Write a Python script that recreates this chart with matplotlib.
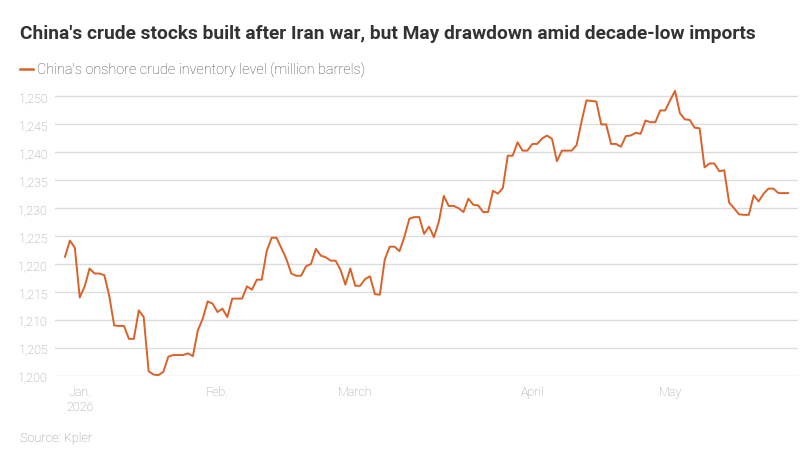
"""
China onshore crude inventory chart (Reuters style), rebuilt with matplotlib.
Saves out.png at 800x452.
"""

import numpy as np
import matplotlib
matplotlib.use("Agg")
import matplotlib.pyplot as plt
from matplotlib.lines import Line2D
from matplotlib.ticker import FuncFormatter

plt.rcParams['font.family'] = ['Roboto', 'DejaVu Sans']

# Inventory level, million barrels (one reading per observation)
inventory = [
    1221.3, 1224.2, 1222.9, 1214.0, 1216.0, 1219.2, 1218.3, 1218.3, 1218.0, 1214.3,
    1209.0, 1208.9, 1208.9, 1206.6, 1206.6, 1211.7, 1210.5, 1200.8, 1200.2, 1200.1,
    1200.7, 1203.4, 1203.7, 1203.7, 1203.7, 1204.0, 1203.5, 1208.1, 1210.2, 1213.3,
    1212.9, 1211.4, 1212.0, 1210.5, 1213.8, 1213.8, 1213.8,
    1216.0, 1215.4, 1217.2, 1217.2, 1222.3, 1224.7, 1224.7, 1222.8, 1220.9, 1218.3,
    1217.9, 1217.9, 1219.6, 1220.0, 1222.7, 1221.5, 1221.2, 1220.6, 1220.6, 1219.0,
    1216.3, 1219.2, 1216.1, 1216.1, 1217.3, 1217.8, 1214.6, 1214.5, 1220.8, 1223.1,
    1223.1, 1222.3, 1224.9, 1228.1, 1228.4, 1228.4, 1225.4, 1226.7,
    1224.8, 1227.6, 1232.2, 1230.4, 1230.4, 1230.0, 1229.3, 1231.7, 1230.6, 1230.5,
    1229.3, 1229.3, 1233.1, 1232.6, 1233.6, 1239.4, 1239.4, 1241.8, 1240.3, 1240.3,
    1241.5, 1241.5, 1242.5, 1243.0, 1242.4, 1238.4, 1240.3, 1240.3, 1240.3, 1241.3,
    1245.5, 1249.3, 1249.2, 1249.1, 1245.0, 1245.0, 1241.5,
    1241.5, 1241.0, 1242.9, 1243.0, 1243.5, 1243.3, 1245.7, 1245.4, 1245.4, 1247.5,
    1247.5, 1249.3, 1251.0, 1247.0, 1245.9, 1245.8, 1244.4, 1244.3, 1237.3, 1238.0,
    1238.0, 1236.6, 1236.8, 1231.0, 1230.0, 1228.9, 1228.8, 1228.8, 1232.3, 1231.2,
    1232.6, 1233.5, 1233.5, 1232.7, 1232.7, 1232.7,
]

# Month labels and the observation index they sit at
month_pos = [3, 31, 59, 95, 123]
month_labels = ["Jan.\n2026", "Feb.", "March", "April", "May"]

y_ticks = [1200, 1205, 1210, 1215, 1220, 1225, 1230, 1235, 1240, 1245, 1250]

LINE_COLOR = '#d9622b'
GRID_COLOR = '#dcdcdc'
TICK_COLOR = '#9a9a9a'


def main():
    fig = plt.figure(figsize=(8, 4.52), dpi=100)
    ax = fig.add_axes([0.06875, 0.1666, 0.92875, 0.6363])

    x = np.arange(len(inventory))
    ax.plot(x, inventory, color=LINE_COLOR, linewidth=1.4, clip_on=False, zorder=3)

    ax.set_xlim(-2.03, 149.0)
    ax.set_ylim(1200, 1251.5)

    ax.set_yticks(y_ticks)
    ax.yaxis.set_major_formatter(FuncFormatter(lambda v, _: f"{v:,.0f}"))
    ax.set_xticks(month_pos)
    ax.set_xticklabels(month_labels)

    ax.grid(axis='y', color=GRID_COLOR, linewidth=1.0)
    ax.grid(axis='x', visible=False)
    ax.set_axisbelow(True)
    for s in ax.spines.values():
        s.set_visible(False)

    ax.tick_params(axis='both', length=0, labelsize=9, labelcolor=TICK_COLOR)
    ax.tick_params(axis='y', pad=5)
    ax.tick_params(axis='x', pad=7)
    for lbl in ax.get_xticklabels() + ax.get_yticklabels():
        lbl.set_fontweight('light')

    # title, legend key and source line
    fig.text(20 / 800, 1 - 39 / 452,
             "China's crude stocks built after Iran war, but May drawdown amid decade-low imports",
             fontsize=13.8, fontweight='bold', color='#333333', va='baseline', ha='left')
    fig.add_artist(Line2D([20 / 800, 33 / 800], [1 - 70 / 452, 1 - 70 / 452],
                          color=LINE_COLOR, linewidth=1.8))
    fig.text(37 / 800, 1 - 70 / 452,
             "China's onshore crude inventory level (million barrels)",
             fontsize=10.4, fontweight='light', color='#444444', va='center', ha='left')
    fig.text(20 / 800, 1 - 442 / 452, "Source: Kpler",
             fontsize=9.2, fontweight='light', color='#8a8a8a', va='baseline', ha='left')

    fig.savefig("out.png", dpi=100, facecolor='white')
    plt.close(fig)


if __name__ == "__main__":
    main()
